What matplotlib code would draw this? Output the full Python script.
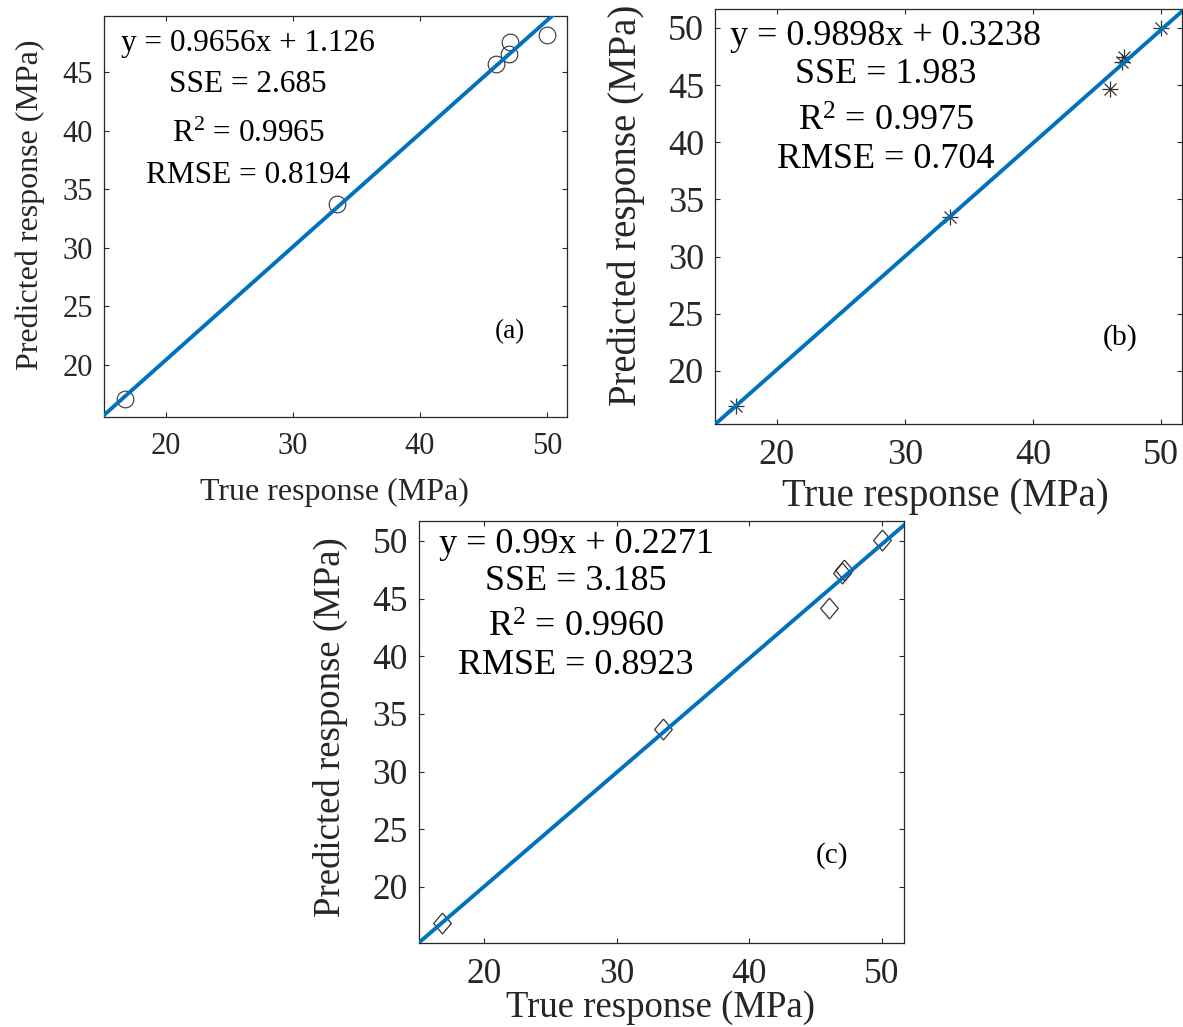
import numpy as np
import matplotlib
matplotlib.use('Agg')
import matplotlib.pyplot as plt

plt.rcParams['font.family'] = ['Liberation Serif', 'DejaVu Serif']
plt.rcParams['mathtext.fontset'] = 'custom'
plt.rcParams['mathtext.rm'] = 'Liberation Serif'
plt.rcParams['mathtext.default'] = 'regular'

# observed (true) responses, MPa
true_resp = [16.8, 33.5, 46.0, 47.0, 47.1, 50.0]

# predicted responses of the three models
pred_a = [17.1, 33.75, 45.7, 46.5, 47.55, 48.15]
pred_b = [16.94, 33.5, 44.65, 47.0, 47.46, 50.0]
pred_c = [16.88, 33.7, 44.2, 47.2, 47.45, 50.1]

# fitted line: slope, intercept
fit_a = (0.9656, 1.126)
fit_b = (0.9898, 0.3238)
fit_c = (0.99, 0.2271)

stats_a = ['y = 0.9656x + 1.126', 'SSE = 2.685', 'R$^{2}$ = 0.9965', 'RMSE = 0.8194']
stats_b = ['y = 0.9898x + 0.3238', 'SSE = 1.983', 'R$^{2}$ = 0.9975', 'RMSE = 0.704']
stats_c = ['y = 0.99x + 0.2271', 'SSE = 3.185', 'R$^{2}$ = 0.9960', 'RMSE = 0.8923']

xticks = [20, 30, 40, 50]
yticks = [20, 25, 30, 35, 40, 45, 50]

W, H = 1183, 1027
fig = plt.figure(figsize=(W / 100, H / 100), dpi=100)

line_blue = '#0072BD'
grey = '#262626'

# diamond a bit taller than wide, like MATLAB's
diamond = [(0, 1), (0.85, 0), (0, -1), (-0.85, 0), (0, 1)]


def box(l, r, t, b):
    return [l / W, 1 - b / H, (r - l) / W, (b - t) / H]


panels = [
    dict(rect=box(104, 567, 16, 417), xlim=(15.12, 51.57), ylim=(15.56, 49.78),
         pred=pred_a, fit=fit_a, stats=stats_a, tag='(a)', marker='o',
         fs_tick=22, fs_lab=23, fs_txt=22.5, fs_tag=19.5,
         tx=0.311, ty=[0.913, 0.810, 0.686, 0.584], tag_xy=(0.877, 0.197),
         ylab=(-0.127, 0.529), xlab=(0.497, -0.152)),
    dict(rect=box(715, 1182, 9, 424), xlim=(15.16, 51.66), ylim=(15.36, 51.66),
         pred=pred_b, fit=fit_b, stats=stats_b, tag='(b)', marker='*',
         fs_tick=26, fs_lab=28, fs_txt=26, fs_tag=21.5,
         tx=0.366, ty=[0.913, 0.822, 0.706, 0.617], tag_xy=(0.867, 0.19),
         ylab=(-0.150, 0.528), xlab=(0.493, -0.130)),
    dict(rect=box(419, 904, 521, 943), xlim=(15.1, 51.66), ylim=(15.14, 51.73),
         pred=pred_c, fit=fit_c, stats=stats_c, tag='(c)', marker='d',
         fs_tick=25.5, fs_lab=26.5, fs_txt=26, fs_tag=21,
         tx=0.324, ty=[0.924, 0.836, 0.725, 0.637], tag_xy=(0.852, 0.19),
         ylab=(-0.146, 0.512), xlab=(0.497, -0.112)),
]

for p in panels:
    ax = fig.add_axes(p['rect'])
    x = np.array(true_resp)
    y = np.array(p['pred'])

    if p['marker'] == 'o':
        ax.plot(x, y, 'o', ms=12, mfc='none', mec='#333333', mew=0.8, zorder=2)
    elif p['marker'] == '*':
        # MATLAB asterisk = plus + cross
        ax.plot(x, y, '+', ms=12, mec='#333333', mew=0.9, zorder=2)
        ax.plot(x, y, 'x', ms=8.5, mec='#333333', mew=0.9, zorder=2)
    else:
        ax.plot(x, y, marker=diamond, ls='none', ms=15, mfc='none', mec='#333333', mew=0.9, zorder=2)

    xl = np.array(p['xlim'])
    ax.plot(xl, p['fit'][0] * xl + p['fit'][1], color=line_blue, lw=2.8, zorder=3)

    ax.set_xlim(p['xlim'])
    ax.set_ylim(p['ylim'])
    ax.set_xticks(xticks)
    ax.set_yticks([t for t in yticks if p['ylim'][0] <= t <= p['ylim'][1]])
    ax.tick_params(direction='in', length=3.6, width=0.8, colors=grey,
                   top=True, right=True, labelsize=p['fs_tick'])
    ax.tick_params(axis='x', pad=11)
    ax.tick_params(axis='y', pad=8)
    for s in ax.spines.values():
        s.set_color(grey)
        s.set_linewidth(0.9)

    ax.set_xlabel('True response (MPa)', fontsize=p['fs_lab'], color=grey)
    ax.set_ylabel('Predicted response (MPa)', fontsize=p['fs_lab'], color=grey)
    ax.xaxis.set_label_coords(*p['xlab'])
    ax.yaxis.set_label_coords(*p['ylab'])

    for line, yy in zip(p['stats'], p['ty']):
        ax.text(p['tx'], yy, line, transform=ax.transAxes, ha='center', va='baseline',
                fontsize=p['fs_txt'], color='black')
    ax.text(p['tag_xy'][0], p['tag_xy'][1], p['tag'], transform=ax.transAxes,
            ha='center', va='baseline', fontsize=p['fs_tag'], color='black')

fig.savefig('out.png', dpi=100)
